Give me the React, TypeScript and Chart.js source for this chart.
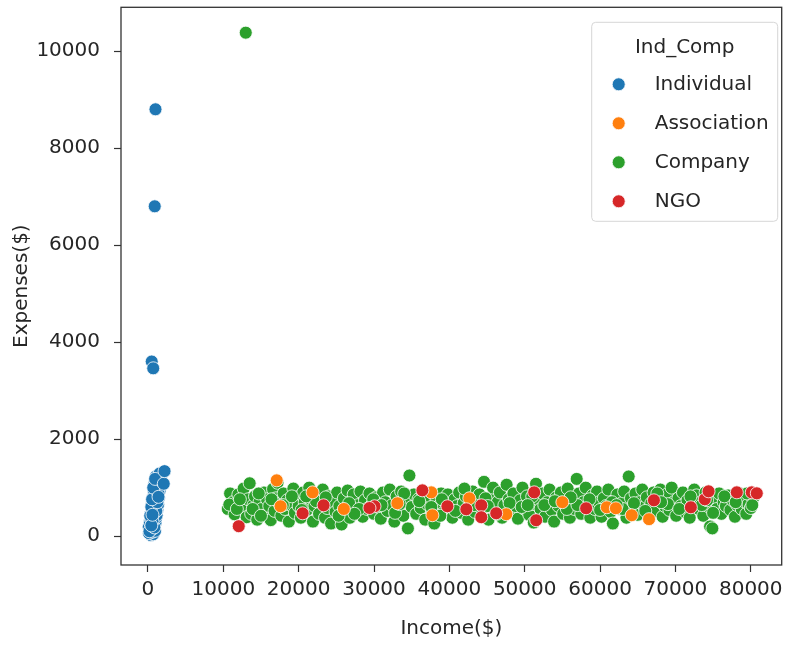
import React, { useEffect, useRef } from 'react';
import { Chart, registerables } from 'chart.js';

Chart.register(...registerables);

const categories = ['Individual', 'Association', 'Company', 'NGO'];
const colors = ['#1f77b4', '#ff7f0e', '#2ca02c', '#d62728'];
const legendTitle = 'Ind_Comp';
const xTitle = 'Income($)';
const yTitle = 'Expenses($)';
const xTicks = [0, 10000, 20000, 30000, 40000, 50000, 60000, 70000, 80000];
const yTicks = [0, 2000, 4000, 6000, 8000, 10000];

const individualPts: [number, number][] = [
  [400, 20], [700, 40], [150, 60], [550, 90], [950, 110], [300, 140], [650, 160], [100, 190],
  [800, 210], [450, 240], [1000, 270], [250, 290], [700, 320], [400, 350], [1050, 370], [650, 400],
  [1150, 430], [350, 455], [750, 460], [500, 480], [950, 510], [1250, 540], [600, 570], [1000, 600],
  [800, 630], [1350, 650], [500, 665], [950, 680], [700, 710], [1200, 740], [900, 760], [1450, 790],
  [650, 800], [1050, 820], [800, 850], [1300, 870], [1000, 900], [1550, 930], [750, 945], [1150, 960],
  [900, 990], [1400, 1010], [1100, 1040], [1650, 1070], [850, 1085], [1250, 1100], [1000, 1130],
  [1500, 1160], [1200, 1190], [1750, 1220], [1350, 1250], [1050, 1230], [1550, 1290],
  [200, 100], [850, 180], [600, 300], [300, 420], [1100, 520], [450, 600], [1250, 700],
  [550, 760], [1400, 880], [700, 1000], [1800, 1140], [950, 1180],
  [450, 220], [600, 440], [1400, 810], [2100, 1080], [2200, 1340],
  [500, 3600], [700, 3460], [900, 6800], [1000, 8800],
];

const associationPts: [number, number][] = [
  [17090, 1150], [17600, 616], [21850, 903], [33100, 678], [37600, 903], [37750, 431],
  [42650, 780], [47550, 452], [60900, 595], [62100, 575], [64200, 431], [66500, 350],
  [26000, 560], [55000, 700],
];

const companyPts: [number, number][] = [
  [10600, 560], [10900, 880], [11300, 700], [11500, 450], [12000, 860], [12400, 620], [12700, 980],
  [12900, 540], [13100, 390], [13300, 760], [13500, 1090], [13700, 460], [14000, 640], [14200, 820],
  [14500, 340], [14800, 700], [15100, 560], [15400, 900], [15600, 420], [15800, 760], [16100, 620],
  [16300, 330], [16600, 970], [16800, 520], [17000, 780], [17200, 1100], [17500, 660], [17700, 420],
  [18000, 880], [18200, 560], [18500, 740], [18700, 300], [19000, 640], [19300, 980], [19500, 480],
  [19800, 800], [20000, 620], [20300, 380], [20600, 900], [20800, 700], [21100, 540], [21400, 1000],
  [21600, 760], [21900, 300], [22100, 620], [22400, 840], [22700, 460], [23000, 700], [23200, 960],
  [23500, 380], [23800, 580], [24000, 820], [24300, 260], [24600, 700], [24900, 500], [25100, 900],
  [25400, 620], [25700, 240], [26000, 780], [26200, 560], [26500, 940], [26800, 380], [27100, 700],
  [27300, 860], [27600, 500], [27900, 640], [28200, 920], [28500, 400], [28800, 740], [29100, 560],
  [29400, 880], [29700, 640], [30000, 460], [30300, 800], [30600, 600], [30900, 360], [31200, 900],
  [31500, 700], [31800, 520], [32100, 960], [32400, 640], [32700, 300], [33000, 820], [33300, 540],
  [33600, 920], [33900, 420], [34200, 700], [34500, 160], [34700, 1250], [35000, 600], [35300, 860],
  [35600, 460], [35900, 760], [36200, 580], [36500, 900], [36800, 340], [37100, 660], [37400, 820],
  [37700, 520], [38000, 260], [38300, 740], [38600, 620], [38900, 880], [39200, 480], [39500, 700],
  [39800, 860], [40100, 580], [40400, 380], [40700, 760], [41000, 620], [41300, 900], [41600, 480],
  [41900, 680], [42200, 820], [42500, 340], [42800, 600], [43100, 920], [43400, 500], [43700, 720],
  [44000, 860], [44300, 560], [44600, 1120], [44900, 640], [45200, 340], [45500, 800], [45800, 1000],
  [46100, 560], [46400, 700], [46700, 900], [47000, 380], [47300, 640], [47600, 1060], [47900, 760],
  [48200, 500], [48500, 880], [48800, 620], [49100, 360], [49400, 740], [49700, 1000], [50000, 560],
  [50300, 820], [50600, 440], [50900, 660], [51200, 280], [51500, 1080], [51800, 760], [52100, 560],
  [52400, 880], [52700, 400], [53000, 700], [53300, 960], [53600, 540], [53900, 300], [54200, 800],
  [54500, 620], [54800, 900], [55100, 460], [55400, 680], [55700, 980], [56000, 380], [56300, 760],
  [56600, 560], [56900, 1180], [57200, 880], [57500, 460], [57800, 700], [58100, 1000], [58400, 620],
  [58700, 380], [59000, 840], [59300, 560], [59600, 920], [59900, 700], [60200, 400], [60500, 780],
  [60800, 620], [61100, 960], [61400, 500], [61700, 260], [62000, 740], [62300, 860], [62600, 560],
  [62900, 680], [63200, 920], [63500, 380], [63800, 1230], [64100, 780], [64400, 560], [64700, 880],
  [65000, 440], [65300, 700], [65600, 960], [65900, 600], [66200, 800], [66500, 380], [66800, 680],
  [67100, 900], [67400, 520], [67700, 740], [68000, 960], [68300, 400], [68600, 620], [68900, 860],
  [69200, 540], [69500, 1000], [69800, 700], [70100, 420], [70400, 780], [70700, 620], [71000, 900],
  [71300, 500], [71600, 740], [71900, 380], [72200, 620], [72500, 960], [72800, 840], [73100, 560],
  [73400, 700], [73700, 420], [74000, 900], [74300, 620], [74600, 200], [74900, 160], [75200, 760],
  [75500, 560], [75800, 880], [76100, 460], [76400, 700], [76700, 620], [77000, 840], [77300, 540],
  [77600, 740], [77900, 400], [78200, 640], [78500, 880], [78800, 560], [79100, 720], [79400, 460],
  [79700, 660], [80000, 580], [80300, 780],
  [10800, 650], [11800, 560], [12200, 760], [13900, 560], [14700, 880], [16400, 760], [17900, 640],
  [19100, 820], [20400, 540], [22300, 720], [23600, 800], [25300, 420], [26700, 680], [28000, 560],
  [29900, 760], [31000, 640], [32800, 480], [34000, 880], [36000, 720], [37600, 600], [39000, 760],
  [40800, 520], [42000, 980], [43300, 640], [44800, 780], [46300, 460], [48000, 680], [49600, 600],
  [51000, 820], [52600, 640], [54000, 720], [55600, 560], [57000, 640], [58600, 760], [60000, 540],
  [61600, 700], [63000, 560], [64500, 680], [66000, 520], [67600, 880], [69000, 660], [70500, 560],
  [72000, 820], [73500, 640], [75000, 480], [76500, 820], [78000, 700], [79500, 880], [80200, 640],
  [15000, 420], [21000, 820], [27400, 460], [33400, 660], [38800, 420], [45100, 620], [50400, 640],
  [56100, 800], [62200, 640], [68100, 700], [74200, 740],
  [12980, 10380],
];

const ngoPts: [number, number][] = [
  [12050, 205], [20530, 470], [23310, 636], [30070, 616], [29400, 580], [36420, 944], [39740, 616],
  [42250, 554], [44240, 636], [44240, 390], [46220, 472], [51260, 903], [51520, 328], [58150, 575],
  [67150, 739], [72050, 595], [73900, 760], [74400, 924], [78150, 903], [80130, 903], [80800, 883],
];

const seriesPts = [individualPts, associationPts, companyPts, ngoPts];
const drawOrder = [3, 1, 2, 0];

const FONT = '"DejaVu Sans", sans-serif';
const TEXT = '#262626';

const framePlugin = {
  id: 'frame',
  afterDatasetsDraw(chart: any) {
    const { ctx, chartArea } = chart;
    ctx.save();
    ctx.strokeStyle = '#333333';
    ctx.lineWidth = 1.3;
    ctx.strokeRect(chartArea.left, chartArea.top, chartArea.right - chartArea.left, chartArea.bottom - chartArea.top);
    ctx.restore();
  },
};

const legendPlugin = {
  id: 'customLegend',
  afterDraw(chart: any) {
    const { ctx, chartArea } = chart;
    const boxRight = chartArea.right - 4;
    const boxW = 186;
    const boxX = boxRight - boxW;
    const boxY = chartArea.top + 15;
    const boxH = 199;
    ctx.save();
    ctx.beginPath();
    const r = 4;
    ctx.moveTo(boxX + r, boxY);
    ctx.lineTo(boxX + boxW - r, boxY);
    ctx.quadraticCurveTo(boxX + boxW, boxY, boxX + boxW, boxY + r);
    ctx.lineTo(boxX + boxW, boxY + boxH - r);
    ctx.quadraticCurveTo(boxX + boxW, boxY + boxH, boxX + boxW - r, boxY + boxH);
    ctx.lineTo(boxX + r, boxY + boxH);
    ctx.quadraticCurveTo(boxX, boxY + boxH, boxX, boxY + boxH - r);
    ctx.lineTo(boxX, boxY + r);
    ctx.quadraticCurveTo(boxX, boxY, boxX + r, boxY);
    ctx.closePath();
    ctx.fillStyle = 'rgba(255,255,255,0.85)';
    ctx.fill();
    ctx.strokeStyle = '#d6d6d6';
    ctx.lineWidth = 1;
    ctx.stroke();

    ctx.font = `20px ${FONT}`;
    ctx.fillStyle = TEXT;
    ctx.textBaseline = 'middle';
    ctx.textAlign = 'center';
    ctx.fillText(legendTitle, boxX + boxW / 2, boxY + 25);
    ctx.textAlign = 'left';
    categories.forEach((c, i) => {
      const y = boxY + 62 + i * 39;
      ctx.beginPath();
      ctx.arc(boxX + 27, y, 6.5, 0, Math.PI * 2);
      ctx.fillStyle = colors[i];
      ctx.fill();
      ctx.strokeStyle = '#ffffff';
      ctx.lineWidth = 0.8;
      ctx.stroke();
      ctx.fillStyle = TEXT;
      ctx.fillText(c, boxX + 63, y);
    });
    ctx.restore();
  },
};

export default function App() {
  const ref = useRef<HTMLCanvasElement | null>(null);
  useEffect(() => {
    document.body.style.margin = '0';
    const canvas = ref.current;
    if (!canvas) return;
    const chart = new Chart(canvas, {
      type: 'scatter',
      data: {
        datasets: categories.map((c, i) => ({
          label: c,
          data: seriesPts[i].map(([x, y]) => ({ x, y })),
          backgroundColor: colors[i],
          borderColor: '#ffffff',
          borderWidth: 0.8,
          pointRadius: 6.5,
          pointHoverRadius: 6.5,
          order: drawOrder[i],
        })),
      },
      options: {
        responsive: false,
        animation: false,
        events: [],
        layout: { padding: { top: 4, right: 6, left: 0, bottom: 0 } },
        plugins: {
          legend: { display: false },
          tooltip: { enabled: false },
        },
        scales: {
          x: {
            type: 'linear',
            min: -3576,
            max: 84106,
            afterBuildTicks: (s: any) => {
              s.ticks = xTicks.map((v) => ({ value: v }));
            },
            afterFit: (s: any) => {
              s.height = 80;
              s.paddingLeft = 0;
              s.paddingRight = 0;
            },
            grid: {
              drawOnChartArea: false,
              drawTicks: true,
              tickLength: 7,
              tickColor: '#333333',
              tickWidth: 1.2,
            },
            border: { display: false },
            ticks: {
              color: TEXT,
              font: { family: FONT, size: 20 },
              padding: 6,
              maxRotation: 0,
              autoSkip: false,
              callback: (v: any) => String(v),
            },
            title: {
              display: true,
              text: xTitle,
              color: TEXT,
              font: { family: FONT, size: 20 },
              padding: { top: 0, bottom: 4 },
            },
          },
          y: {
            type: 'linear',
            min: -595,
            max: 10903,
            afterBuildTicks: (s: any) => {
              s.ticks = yTicks.map((v) => ({ value: v }));
            },
            afterFit: (s: any) => {
              s.width = 121;
              s.paddingTop = 0;
              s.paddingBottom = 0;
            },
            grid: {
              drawOnChartArea: false,
              drawTicks: true,
              tickLength: 7,
              tickColor: '#333333',
              tickWidth: 1.2,
            },
            border: { display: false },
            ticks: {
              color: TEXT,
              font: { family: FONT, size: 20 },
              padding: 14,
              autoSkip: false,
              callback: (v: any) => String(v),
            },
            title: {
              display: true,
              text: yTitle,
              color: TEXT,
              font: { family: FONT, size: 20 },
              padding: { top: 10, bottom: 0 },
            },
          },
        },
      },
      plugins: [framePlugin, legendPlugin],
    });
    return () => chart.destroy();
  }, []);
  return (
    <div style={{ width: 789, height: 645, background: '#ffffff' }}>
      <canvas ref={ref} width={789} height={645} style={{ display: 'block', width: 789, height: 645 }} />
    </div>
  );
}
